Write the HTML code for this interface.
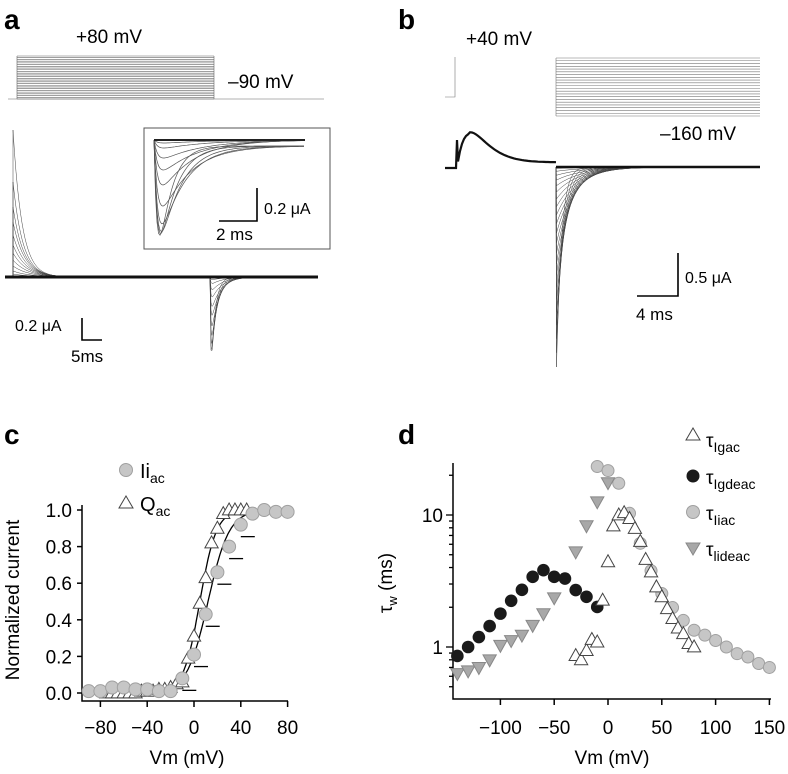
<!DOCTYPE html>
<html><head><meta charset="utf-8"><style>
html,body{margin:0;padding:0;background:#fff}
svg{display:block;font-family:"Liberation Sans",Arial,sans-serif}
</style></head><body>
<svg id="fig" width="788" height="774" viewBox="0 0 788 774" xmlns="http://www.w3.org/2000/svg">
<text x="4" y="29" font-size="28" font-weight="bold">a</text>
<text x="398" y="29" font-size="28" font-weight="bold">b</text>
<text x="4" y="444" font-size="28" font-weight="bold">c</text>
<text x="398" y="444" font-size="28" font-weight="bold">d</text>

<g id="protoA" stroke="#666" stroke-width="0.6" fill="none"></g>
<text x="76" y="43" font-size="19">+80 mV</text>
<text x="228" y="88" font-size="19">–90 mV</text>
<g id="traceA" fill="none"></g>
<rect x="144" y="128" width="186" height="121" fill="#fff" stroke="#555" stroke-width="1"/>
<g id="insetA" fill="none"></g>
<path d="M257 188 V221 H219" stroke="#000" stroke-width="1.6" fill="none"/>
<text x="264" y="214" font-size="16">0.2 μA</text>
<text x="216" y="240" font-size="17">2 ms</text>
<path d="M82 318 V340 H102" stroke="#000" stroke-width="1.6" fill="none"/>
<text x="15" y="331" font-size="16">0.2 μA</text>
<text x="71" y="362" font-size="17">5ms</text>

<g id="protoB" stroke="#777" stroke-width="0.6" fill="none"></g>
<text x="466" y="45" font-size="19">+40 mV</text>
<text x="660" y="140" font-size="19">–160 mV</text>
<g id="traceB" fill="none"></g>
<path d="M678 253 V296 H637" stroke="#000" stroke-width="1.6" fill="none"/>
<text x="685" y="283" font-size="16">0.5 μA</text>
<text x="636" y="320" font-size="17">4 ms</text>

<g id="chartC"></g>
<text transform="translate(19,600) rotate(-90)" text-anchor="middle" font-size="19">Normalized current</text>
<text x="187" y="764" text-anchor="middle" font-size="19">Vm (mV)</text>
<circle cx="126" cy="470" r="6.5" fill="#c6c6c6" stroke="#a0a0a0"/>
<text x="140" y="478" font-size="20">Ii<tspan font-size="14" dy="5">ac</tspan></text>
<path d="M126 496 L133 508 L119 508 Z" fill="#fff" stroke="#444"/>
<text x="140" y="511" font-size="20">Q<tspan font-size="14" dy="5">ac</tspan></text>

<g id="chartD"></g>
<text transform="translate(392,583) rotate(-90)" text-anchor="middle" font-size="19">τ<tspan font-size="13" dy="5">w</tspan><tspan dy="-5"> (ms)</tspan></text>
<text x="612" y="764" text-anchor="middle" font-size="19">Vm (mV)</text>
<g>
<path d="M693 428 L700 440 L686 440 Z" fill="#fff" stroke="#444"/>
<text x="706" y="447" font-size="19">τ<tspan font-size="14" dy="5">Igac</tspan></text>
<circle cx="693" cy="476" r="6.5" fill="#1a1a1a"/>
<text x="706" y="484" font-size="19">τ<tspan font-size="14" dy="5">Igdeac</tspan></text>
<circle cx="693" cy="512" r="6.5" fill="#c6c6c6" stroke="#a0a0a0"/>
<text x="706" y="520" font-size="19">τ<tspan font-size="14" dy="5">Iiac</tspan></text>
<path d="M686 543 L700 543 L693 555 Z" fill="#a8a8a8" stroke="#888"/>
<text x="706" y="556" font-size="19">τ<tspan font-size="14" dy="5">lideac</tspan></text>
</g>
</svg>
<script>
// ---- Panel c data ----
const cIiV = [-90,-80,-70,-60,-50,-40,-30,-20,-10,0,10,20,30,40,50,60,70,80];
const cIiY = [0.01,0.01,0.03,0.03,0.02,0.02,0.01,0.01,0.08,0.21,0.43,0.66,0.80,0.92,0.98,1.0,0.99,0.99];
const cQV = [-75,-70,-65,-60,-55,-50,-45,-40,-35,-30,-25,-20,-15,-10,-5,0,5,10,15,20,25,30,35,40,45];
const cQY = [0.0,0.0,0.0,0.0,0.0,0.0,0.01,0.01,0.01,0.02,0.02,0.03,0.05,0.06,0.19,0.31,0.49,0.63,0.82,0.90,0.98,1.0,1.0,1.0,1.0];
const cFitIi = [12, 9];
const cFitQ = [5, 7];
const cXTicks = [-80,-40,0,40,80];
const cYTicks = ["0.0","0.2","0.4","0.6","0.8","1.0"];
// ---- Panel d data ----
const dGdeacV = [-140,-130,-120,-110,-100,-90,-80,-70,-60,-50,-40,-30,-20,-10];
const dGdeacY = [0.855,1.0,1.19,1.44,1.79,2.24,2.71,3.40,3.82,3.40,3.30,2.70,2.40,2.01];
const dIdeacV = [-140,-130,-120,-110,-100,-90,-80,-70,-60,-50,-30,-20,-10,0];
const dIdeacY = [0.63,0.66,0.70,0.80,1.03,1.12,1.23,1.46,1.79,2.36,5.26,8.3,12.6,17.6];
const dIacV = [-10,0,10,20,30,40,50,60,70,80,90,100,110,120,130,140,150];
const dIacY = [23.3,21.7,17.4,10.3,6.1,3.78,2.54,1.99,1.59,1.34,1.23,1.12,1.0,0.89,0.84,0.75,0.70];
const dGacV = [-30,-25,-20,-15,-10,-5,0,5,10,15,20,25,30,35,40,45,50,55,60,65,70,75,80];
const dGacY = [0.86,0.80,0.94,1.14,1.09,2.26,4.42,8.25,10.0,10.4,9.4,7.9,6.3,4.6,3.7,2.85,2.40,1.95,1.64,1.39,1.26,1.06,1.0];
const dXTicks = [-100,-50,0,50,100,150];
const dYTickLabels = ["1","10"];

const NS = "http://www.w3.org/2000/svg";
function mk(tag, attrs, parent){const e=document.createElementNS(NS,tag);for(const k in attrs)e.setAttribute(k,attrs[k]);parent.appendChild(e);return e;}

const xc = v => 194 + v*1.17;
const yc = v => 693 - v*183;
const xd = v => 608 + v*1.076;
const yd = v => 647 - Math.log10(v)*132;

// ---- chart c ----
const C = document.getElementById('chartC');
let ax = mk('path',{d:'M82 505 V701 H288',stroke:'#000','stroke-width':1.5,fill:'none'},C);


cYTicks.forEach(t=>{const y=yc(parseFloat(t));
  const tk=mk('line',{x1:77,x2:82,y1:y,y2:y,stroke:'#000','stroke-width':1.5},C);
  
  
  const tx=mk('text',{x:72,y:y+7,'text-anchor':'end','font-size':19},C);tx.textContent=t;
  
  
});
cXTicks.forEach(t=>{const x=xc(t);
  const tk=mk('line',{x1:x,x2:x,y1:701,y2:707,stroke:'#000','stroke-width':1.5},C);
  
  
  const tx=mk('text',{x:x,y:734,'text-anchor':'middle','font-size':19},C);tx.textContent=(t<0?'−'+(-t):t);
  
  
});
function fitPath(p){let d='';for(let v=-90;v<=80;v+=1){const y=1/(1+Math.exp(-(v-p[0])/p[1]));d+=(d?'L':'M')+xc(v).toFixed(1)+' '+yc(y).toFixed(1);}return d;}
let f1=mk('path',{d:fitPath(cFitQ),stroke:'#000','stroke-width':1.3,fill:'none'},C);


let f2=mk('path',{d:fitPath(cFitIi),stroke:'#000','stroke-width':1.3,fill:'none'},C);


function tri(cx,cy,s,up){return up?`M${cx} ${cy-s} L${cx+s*0.95} ${cy+s*0.7} L${cx-s*0.95} ${cy+s*0.7}Z`:`M${cx-s*0.95} ${cy-s*0.7} L${cx+s*0.95} ${cy-s*0.7} L${cx} ${cy+s}Z`;}
cQV.forEach((v,i)=>{const p=mk('path',{d:tri(xc(v),yc(cQY[i]),7,true),fill:'#fff',stroke:'#444','stroke-width':1},C);
  
  });
cIiV.forEach((v,i)=>{const x=xc(v),y=yc(cIiY[i]);
  if(v>=-10&&v<=40){const e=mk('line',{x1:x,x2:x+14,y1:y+12,y2:y+12,stroke:'#000','stroke-width':1.3},C);
    
    }
  const c=mk('circle',{cx:x,cy:y,r:6.5,fill:'#c6c6c6',stroke:'#a0a0a0'},C);
  
  });

// ---- chart d ----
const D = document.getElementById('chartD');
let axd=mk('path',{d:'M453 463 V699 H771',stroke:'#000','stroke-width':1.5,fill:'none'},D);


[0.5,0.6,0.7,0.8,0.9,1,2,3,4,5,6,7,8,9,10,20].forEach(v=>{const y=yd(v);const major=(v===1||v===10);
  const tk=mk('line',{x1:major?446:449,x2:453,y1:y,y2:y,stroke:'#000','stroke-width':1.3},D);
  
  });
dYTickLabels.forEach(t=>{const tx=mk('text',{x:443,y:yd(parseFloat(t))+7,'text-anchor':'end','font-size':19},D);tx.textContent=t;
  
  });
dXTicks.forEach(t=>{const x=xd(t);
  const tk=mk('line',{x1:x,x2:x,y1:699,y2:705,stroke:'#000','stroke-width':1.5},D);
  
  
  const tx=mk('text',{x:x,y:734,'text-anchor':'middle','font-size':19},D);tx.textContent=(t<0?'−'+(-t):t);
  
  });
dIacV.forEach((v,i)=>{const c=mk('circle',{cx:xd(v),cy:yd(dIacY[i]),r:6,fill:'#c6c6c6',stroke:'#a0a0a0'},D);
  
  });
dIdeacV.forEach((v,i)=>{const p=mk('path',{d:tri(xd(v),yd(dIdeacY[i]),7,false),fill:'#a8a8a8',stroke:'#888','stroke-width':1},D);
  
  });
dGdeacV.forEach((v,i)=>{const c=mk('circle',{cx:xd(v),cy:yd(dGdeacY[i]),r:6.3,fill:'#1a1a1a'},D);
  
  });
dGacV.forEach((v,i)=>{const p=mk('path',{d:tri(xd(v),yd(dGacY[i]),7,true),fill:'#fff',stroke:'#444','stroke-width':1},D);
  
  });

// ---- panel a traces ----
const PA=document.getElementById('protoA');
for(let k=0;k<26;k++){const y=56+k*43/25;mk('line',{x1:17,x2:214,y1:y,y2:y},PA);}
mk('path',{d:'M17 99 V56 M214 56 V99 M8 99 H324'},PA);
const TA=document.getElementById('traceA');
const ampA=[147,95,70,55,42,32,24,17,11,6,3,0];
const tailA=[80,72,62,52,42,32,24,16,10,5,2,0];
ampA.forEach((A,k)=>{let d='M5 277 L13 277';
  for(let x=13;x<=209;x+=1.5){d+=' L'+x+' '+(277-A*Math.exp(-(x-13)/(9+k*0.8))).toFixed(1);}
  const B=tailA[k];
  for(let x=210;x<=318;x+=1){const t=x-210;d+=' L'+x+' '+(277+B*(1-Math.exp(-t/0.8))*Math.exp(-t/(4+k*0.9))*1.65).toFixed(1);}
  mk('path',{d:d,stroke:'#444','stroke-width':0.5},TA);});
mk('line',{x1:5,x2:318,y1:277,y2:277,stroke:'#111','stroke-width':3},TA);
const IA=document.getElementById('insetA');
const insD=[92,90,88,80,62,45,30,18,8,3,0];
insD.forEach((D0,k)=>{
  const rise=4, decay=12+k*4;
  let gmax=0;const g=[];
  for(let x=154;x<=305;x+=1.5){const t=x-154;const v=(1-Math.exp(-t/rise))*Math.exp(-t/decay);g.push([x,v]);if(v>gmax)gmax=v;}
  const off=D0>60?6:0;
  let d='M154 140';
  g.forEach(([x,v])=>{d+=' L'+x+' '+(140+off*(1-Math.exp(-(x-154)/8))+D0*v/gmax).toFixed(1);});
  mk('path',{d:d,stroke:'#555','stroke-width':0.7},IA);});
mk('line',{x1:154,x2:305,y1:140,y2:140,stroke:'#222','stroke-width':2},IA);

// ---- panel b traces ----
const PB=document.getElementById('protoB');
mk('path',{d:'M445 97 H455 V57'},PB);
for(let k=0;k<22;k++){const y=58+k*58/21;mk('line',{x1:556,x2:760,y1:y,y2:y},PB);}
mk('line',{x1:556,x2:556,y1:58,y2:116},PB);
const TB=document.getElementById('traceB');
let hd='M445 168 L456 168 L457 140';
for(let x=458;x<=556;x+=2){const t=x-457;hd+=' L'+x+' '+(168-34*(t/13)*Math.exp(1-t/13)-6*(1-Math.exp(-t/40))*(t<13?0:1)).toFixed(1);}
mk('path',{d:hd,stroke:'#111','stroke-width':2.2},TB);
for(let k=0;k<22;k++){const B=200*Math.pow(1-k/22,1.6);let d='M556 167 L556.5 '+(167+B).toFixed(1);
  for(let x=557;x<=760;x+=1.5){const t=x-556.5;d+=' L'+x+' '+(167+B*Math.exp(-t/(5+k*1.2))).toFixed(1);}
  mk('path',{d:d,stroke:'#444','stroke-width':0.5},TB);}
mk('line',{x1:556,x2:760,y1:167,y2:167,stroke:'#111','stroke-width':2.5},TB);
</script>
</body></html>
